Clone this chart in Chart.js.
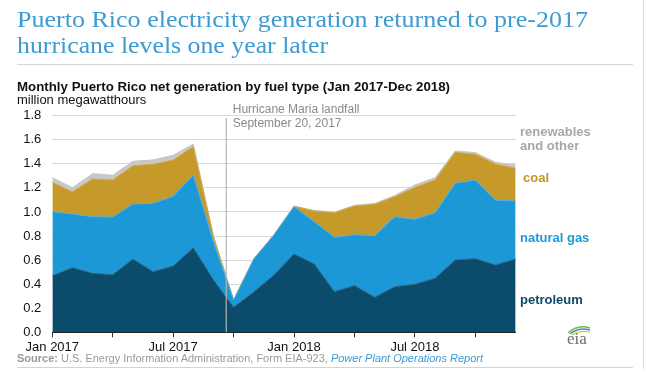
<!DOCTYPE html>
<html>
<head>
<meta charset="utf-8">
<script src="https://cdn.jsdelivr.net/npm/chart.js@4/dist/chart.umd.min.js"></script>
<style>
  body { margin: 0; background: #fff; width: 650px; height: 369px; overflow: hidden; position: relative; }
  canvas { position: absolute; left: 0; top: 0; }
  .t { position: absolute; white-space: nowrap; transform-origin: 0 0; }
  .title { font-family: "Liberation Serif", serif; font-size: 24px; line-height: 24px; color: #3d9bd2; }
  .sans { font-family: "Liberation Sans", Arial, sans-serif; font-size: 13px; line-height: 13px; }
  .rule { position: absolute; background: #d4d4d4; }
</style>
</head>
<body>
<canvas id="chart" width="650" height="369"></canvas>

<div class="t title fit" data-w="571" style="left:17px; top:7px;">Puerto Rico electricity generation returned to pre-2017</div>
<div class="t title fit" data-w="311" style="left:17px; top:33px;">hurricane levels one year later</div>
<div class="rule" style="left:17px; top:64px; width:616px; height:1px;"></div>

<div class="t sans fit" data-w="433" style="left:17px; top:80px; font-weight:bold; color:#111;">Monthly Puerto Rico net generation by fuel type (Jan 2017-Dec 2018)</div>
<div class="t sans" style="left:17px; top:93px; color:#111;">million megawatthours</div>

<div class="t sans" style="left:520px; top:125px; font-weight:bold; color:#a8a8a8;">renewables</div>
<div class="t sans" style="left:520px; top:139px; font-weight:bold; color:#a8a8a8;">and other</div>
<div class="t sans" style="left:523px; top:171px; font-weight:bold; color:#c3962a;">coal</div>
<div class="t sans" style="left:520px; top:231px; font-weight:bold; color:#1a9bd7;">natural gas</div>
<div class="t sans" style="left:520px; top:293px; font-weight:bold; color:#0b4a6a;">petroleum</div>

<svg style="position:absolute; left:563px; top:322px;" width="32" height="26">
  <path d="M5 11 Q15 2 27 6" stroke="#7ab648" stroke-width="1.5" fill="none"/>
  <path d="M7 12 Q16 5 27 8" stroke="#2f9bd6" stroke-width="1.5" fill="none"/>
  <path d="M9 13 Q17 8 27 10" stroke="#f2c12e" stroke-width="1.2" fill="none"/>
  <text x="4" y="22" font-family="Liberation Serif, serif" font-size="17" fill="#6d6d6d">eia</text>
</svg>

<div class="t sans fit" data-w="466" style="left:17px; top:353px; font-size:11px; line-height:11px; color:#9a9a9a;"><b>Source:</b> U.S. Energy Information Administration, Form EIA-923, <i style="color:#3d9bd2;">Power Plant Operations Report</i></div>
<div class="rule" style="left:17px; top:367px; width:616px; height:1px;"></div>
<div class="rule" style="left:643px; top:0; width:1px; height:369px; background:#dcdcdc;"></div>

<script>
// monthly net generation, million MWh
const months = [
  'Jan 2017', 'Feb 2017', 'Mar 2017', 'Apr 2017', 'May 2017', 'Jun 2017',
  'Jul 2017', 'Aug 2017', 'Sep 2017', 'Oct 2017', 'Nov 2017', 'Dec 2017',
  'Jan 2018', 'Feb 2018', 'Mar 2018', 'Apr 2018', 'May 2018', 'Jun 2018',
  'Jul 2018', 'Aug 2018', 'Sep 2018', 'Oct 2018', 'Nov 2018', 'Dec 2018'
];
const petroleum = [0.470, 0.537, 0.490, 0.479, 0.609, 0.504, 0.551, 0.703, 0.435, 0.208, 0.335, 0.476,
                   0.651, 0.568, 0.338, 0.388, 0.291, 0.379, 0.399, 0.449, 0.601, 0.612, 0.559, 0.609];
const naturalGas = [0.532, 0.446, 0.471, 0.479, 0.457, 0.568, 0.579, 0.604, 0.318, 0.060, 0.274, 0.333,
                    0.393, 0.351, 0.451, 0.423, 0.512, 0.582, 0.540, 0.545, 0.637, 0.654, 0.538, 0.482];
const coal = [0.244, 0.185, 0.313, 0.308, 0.319, 0.324, 0.302, 0.236, 0.042, 0, 0, 0,
              0.003, 0.089, 0.205, 0.239, 0.261, 0.166, 0.266, 0.272, 0.258, 0.213, 0.302, 0.272];
const renewables = [0.039, 0.034, 0.044, 0.039, 0.036, 0.036, 0.039, 0.021, 0.005, 0, 0, 0,
                    0.002, 0.004, 0.004, 0.005, 0.006, 0.010, 0.019, 0.019, 0.011, 0.014, 0.014, 0.027];
const yTicks = [0, 0.2, 0.4, 0.6, 0.8, 1.0, 1.2, 1.4, 1.6, 1.8];

// Hurricane Maria landfall: Sep 20, 2017 (index 8 + 19/30)
const landfallIndex = 8;
const landfallFrac = 19 / 30;

// squeeze text blocks to the widths in the reference
document.querySelectorAll('.fit').forEach(el => {
    let w = el.getBoundingClientRect().width;
    el.style.transform = 'scaleX(' + (el.dataset.w / w) + ')';
});

const hurricaneLine = {
    id: 'hurricaneLine',
    afterDatasetsDraw(chart) {
        const ctx = chart.ctx;
        const xs = chart.scales.x;
        const x0 = xs.getPixelForValue(landfallIndex);
        const x = x0 + (xs.getPixelForValue(landfallIndex + 1) - x0) * landfallFrac;
        ctx.save();
        ctx.strokeStyle = '#b3b3b3';
        ctx.lineWidth = 1.2;
        ctx.beginPath();
        ctx.moveTo(x, 118);
        ctx.lineTo(x, chart.chartArea.bottom);
        ctx.stroke();
        ctx.fillStyle = '#8a8a8a';
        ctx.font = '12px "Liberation Sans", Arial, sans-serif';
        ctx.textBaseline = 'alphabetic';
        ctx.fillText('Hurricane Maria landfall', x + 6.5, 113.3);
        ctx.fillText('September 20, 2017', x + 6.5, 126.7);
        ctx.restore();
    }
};

new Chart(document.getElementById('chart'), {
    type: 'line',
    data: {
        labels: months,
        datasets: [
            { label: 'petroleum', data: petroleum, backgroundColor: '#0b4b6b', borderColor: '#2a6787', fill: 'origin' },
            { label: 'natural gas', data: naturalGas, backgroundColor: '#1b98d5', borderColor: '#4db0e2', fill: '-1' },
            { label: 'coal', data: coal, backgroundColor: '#c59a2a', borderColor: '#d0aa4c', fill: '-1' },
            { label: 'renewables and other', data: renewables, backgroundColor: '#c8c8c8', borderColor: '#c4c4c4', fill: '-1' }
        ]
    },
    options: {
        responsive: false,
        animation: false,
        devicePixelRatio: 1,
        elements: {
            point: { radius: 0 },
            line: { borderWidth: 1, tension: 0 }
        },
        layout: { padding: { top: 115.7, right: 134.3, bottom: 16.7, left: 0 } },
        plugins: { legend: { display: false }, tooltip: { enabled: false } },
        scales: {
            x: {
                offset: false,
                afterFit: s => { s.height = 20; },
                border: { display: true, color: '#222', width: 1 },
                grid: {
                    drawOnChartArea: false,
                    drawTicks: true,
                    tickLength: 5,
                    tickColor: c => (c.index % 3 === 0 ? '#333' : 'rgba(0,0,0,0)')
                },
                ticks: {
                    autoSkip: false,
                    maxRotation: 0,
                    padding: 2,
                    color: '#111',
                    font: { family: '"Liberation Sans", Arial, sans-serif', size: 13 },
                    callback: (v, i) => (i % 6 === 0 ? months[i] : '')
                }
            },
            y: {
                stacked: true,
                min: 0,
                max: 1.8,
                afterFit: s => { s.width = 52.3; },
                afterBuildTicks: s => { s.ticks = yTicks.map(v => ({ value: v })); },
                border: { display: false },
                grid: {
                    drawTicks: false,
                    color: c => (c.tick && c.tick.value === 0 ? 'rgba(0,0,0,0)' : '#d9d9d9')
                },
                ticks: {
                    padding: 11,
                    color: '#111',
                    font: { family: '"Liberation Sans", Arial, sans-serif', size: 13 },
                    callback: v => v.toFixed(1)
                }
            }
        }
    },
    plugins: [hurricaneLine]
});
</script>
</body>
</html>
